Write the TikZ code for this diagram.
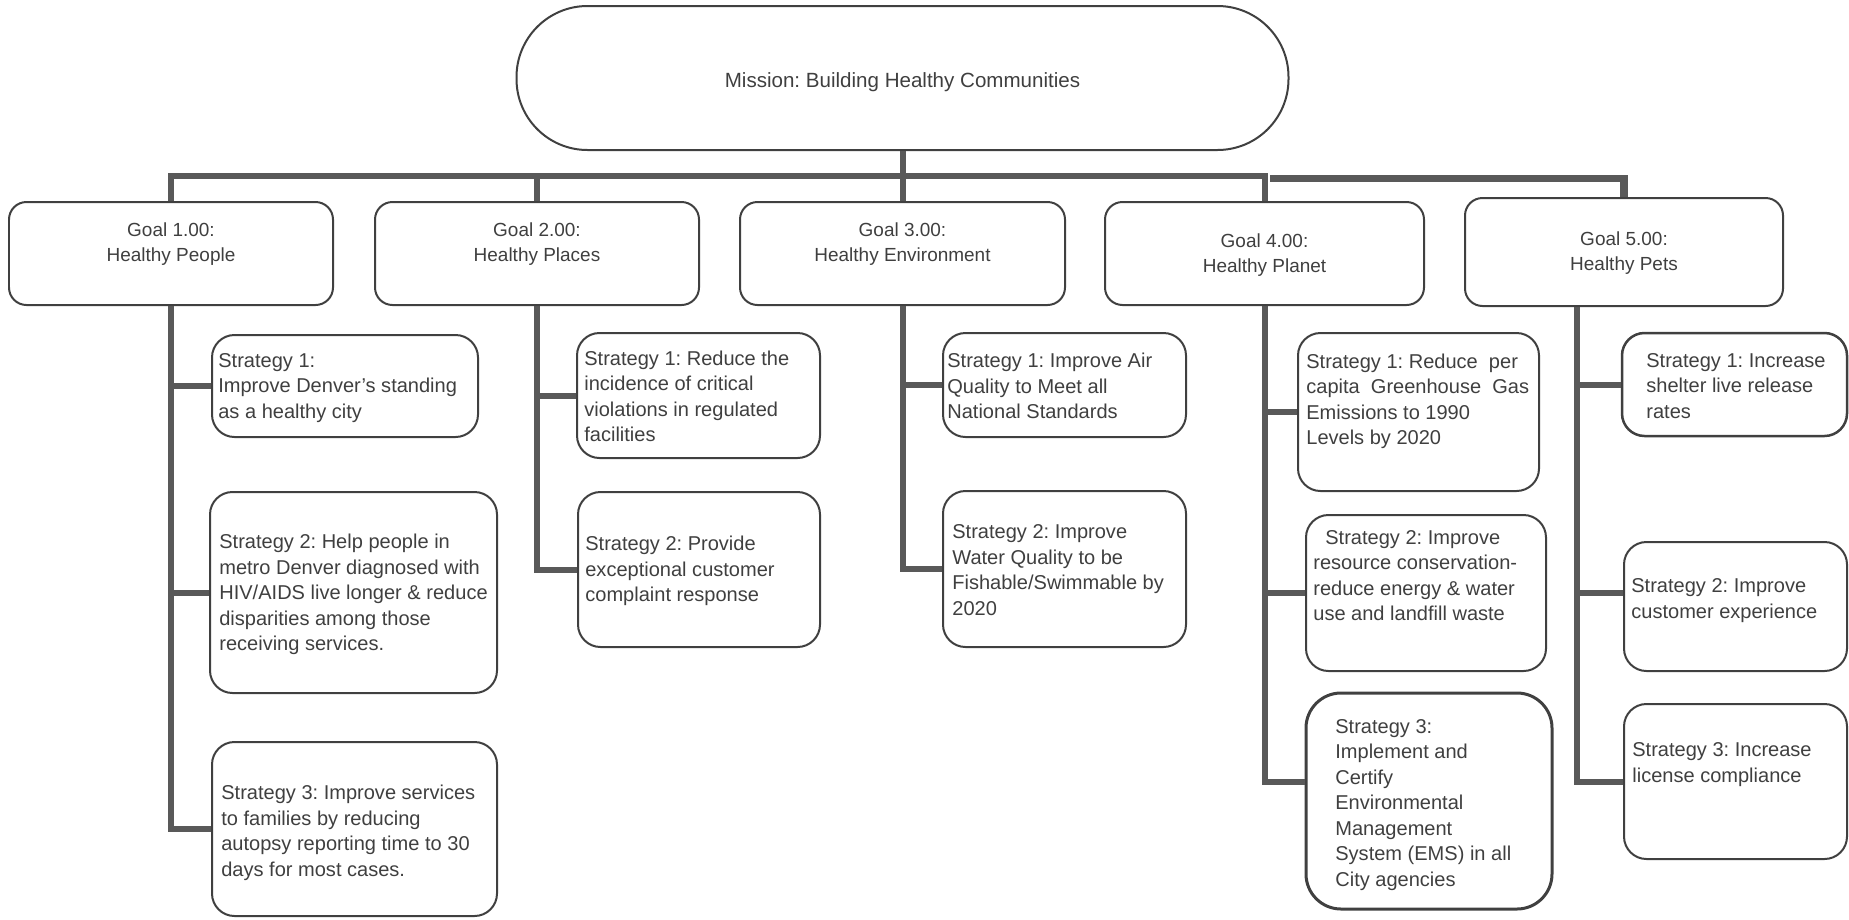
\documentclass[tikz,border=0pt]{standalone}
\usepackage{fontspec}
\setmainfont{Liberation Sans}
\frenchspacing
\definecolor{linkgray}{HTML}{595959}
\definecolor{boxgray}{HTML}{404040}
\definecolor{textgray}{HTML}{3F3F3F}
\tikzset{
  link/.style={draw=linkgray, line width=0.12cm},
  missionbox/.style={draw=boxgray, line width=0.04cm, rounded corners=1.42cm, minimum width=15.44cm, minimum height=2.88cm},
  missiontext/.style={inner sep=0pt, text=textgray, font=\fontsize{11.7pt}{14pt}\selectfont},
  goalbox/.style={draw=boxgray, line width=0.04cm, rounded corners=0.35cm, minimum height=2.06cm},
  goaltext/.style={align=center, inner sep=0pt, text=textgray, font=\fontsize{10.8pt}{14.2pt}\selectfont},
  stratbox/.style={draw=boxgray, line width=0.04cm, rounded corners=0.45cm},
  strattext/.style={anchor=west, align=left, inner sep=0pt, text=textgray, font=\fontsize{11.4pt}{14.5pt}\selectfont}
}
\begin{document}
\begin{tikzpicture}
\useasboundingbox (0,0) rectangle (36.98,-18.38);

% mission and goals
\node[missionbox] (mission) at (18.05,-1.56) {};
\node[missiontext] (missiontext) at (18.05,-1.64) {Mission: Building Healthy Communities};

\node[goalbox, minimum width=6.48cm] (g1) at (3.42,-5.07) {};
\node[goaltext] (g1text) at (3.42,-4.88) {Goal 1.00:\\Healthy People};
\node[goalbox, minimum width=6.48cm] (g2) at (10.74,-5.07) {};
\node[goaltext] (g2text) at (10.74,-4.88) {Goal 2.00:\\Healthy Places};
\node[goalbox, minimum width=6.50cm] (g3) at (18.05,-5.07) {};
\node[goaltext] (g3text) at (18.05,-4.88) {Goal 3.00:\\Healthy Environment};
\node[goalbox, minimum width=6.38cm] (g4) at (25.29,-5.07) {};
\node[goaltext] (g4text) at (25.29,-5.10) {Goal 4.00:\\Healthy Planet};
\node[goalbox, minimum width=6.36cm, minimum height=2.16cm] (g5) at (32.48,-5.04) {};
\node[goaltext] (g5text) at (32.48,-5.07) {Goal 5.00:\\Healthy Pets};

\coordinate (bus) at (18.05,-3.51);
\coordinate (busright) at (25.40,-3.57);
\draw[link] (mission.south) -- (g3.north);
\draw[link] (g1.north) |- (bus) -| (g4.north);
\draw[link] (g2.north) -- (g2.north |- bus);
\draw[link, line width=0.15cm] (busright) -| (g5.north);

% goal 1
\node[stratbox, minimum width=5.32cm, minimum height=2.04cm] (s11) at (6.90,-7.72) {};
\node[strattext] (s11text) at (4.36,-7.76) {Strategy 1:\\Improve Denver’s standing\\as a healthy city};
\node[stratbox, minimum width=5.74cm, minimum height=4.02cm] (s12) at (7.07,-11.85) {};
\node[strattext] (s12text) at (4.38,-11.89) {Strategy 2: Help people in\\metro Denver diagnosed with\\HIV/AIDS live longer \& reduce\\disparities among those\\receiving services.};
\node[stratbox, minimum width=5.70cm, minimum height=3.48cm] (s13) at (7.09,-16.58) {};
\node[strattext] (s13text) at (4.42,-16.66) {Strategy 3: Improve services\\to families by reducing\\autopsy reporting time to 30\\days for most cases.};
\draw[link] (g1.south) |- (s13.west);
\draw[link] (g1.south |- s11.west) -- (s11.west);
\draw[link] (g1.south |- s12.west) -- (s12.west);

% goal 2
\node[stratbox, minimum width=4.86cm, minimum height=2.50cm] (s21) at (13.97,-7.91) {};
\node[strattext] (s21text) at (11.68,-7.93) {Strategy 1: Reduce the\\incidence of critical\\violations in regulated\\facilities};
\node[stratbox, minimum width=4.84cm, minimum height=3.10cm] (s22) at (13.98,-11.39) {};
\node[strattext] (s22text) at (11.70,-11.42) {Strategy 2: Provide\\exceptional customer\\complaint response};
\draw[link] (g2.south) |- (s22.west);
\draw[link] (g2.south |- s21.west) -- (s21.west);

% goal 3
\node[stratbox, minimum width=4.86cm, minimum height=2.08cm] (s31) at (21.29,-7.70) {};
\node[strattext] (s31text) at (18.94,-7.72) {Strategy 1: Improve Air\\Quality to Meet all\\National Standards};
\node[stratbox, minimum width=4.86cm, minimum height=3.12cm] (s32) at (21.29,-11.38) {};
\node[strattext] (s32text) at (19.04,-11.40) {Strategy 2: Improve\\Water Quality to be\\Fishable/Swimmable by\\2020};
\draw[link] (g3.south) |- (s32.west);
\draw[link] (g3.south |- s31.west) -- (s31.west);

% goal 4
\node[stratbox, minimum width=4.82cm, minimum height=3.16cm] (s41) at (28.37,-8.24) {};
\node[strattext] (s41text) at (26.12,-8.03) {Strategy 1: Reduce\ \ per\\capita\ \ Greenhouse\ \ Gas\\Emissions to 1990\\Levels by 2020};
\node[stratbox, minimum width=4.80cm, minimum height=3.12cm] (s42) at (28.52,-11.86) {};
\node[strattext] (s42text) at (26.26,-11.51) {\hspace{0.24cm}Strategy 2: Improve\\resource conservation-\\reduce energy \& water\\use and landfill waste};
\node[stratbox, minimum width=4.92cm, minimum height=4.32cm, line width=0.06cm, rounded corners=0.7cm] (s43) at (28.58,-16.02) {};
\node[strattext] (s43text) at (26.70,-16.10) {Strategy 3:\\Implement and\\Certify\\Environmental\\Management\\System (EMS) in all\\City agencies};
\coordinate (s43in) at ([yshift=0.38cm]s43.west);
\draw[link] (g4.south) |- (s43in);
\draw[link] (g4.south |- s41.west) -- (s41.west);
\draw[link] (g4.south |- s42.west) -- (s42.west);

% goal 5
\node[stratbox, minimum width=4.50cm, minimum height=2.06cm, line width=0.05cm] (s51) at (34.69,-7.69) {};
\node[strattext] (s51text) at (32.92,-7.72) {Strategy 1: Increase\\shelter live release\\rates};
\node[stratbox, minimum width=4.46cm, minimum height=2.58cm] (s52) at (34.71,-12.13) {};
\node[strattext] (s52text) at (32.62,-12.01) {Strategy 2: Improve\\customer experience};
\node[stratbox, minimum width=4.46cm, minimum height=3.10cm] (s53) at (34.71,-15.63) {};
\node[strattext] (s53text) at (32.64,-15.29) {Strategy 3: Increase\\license compliance};
\coordinate (g5drop) at ([xshift=-0.94cm]g5.south);
\coordinate (s52in) at ([yshift=0.27cm]s52.west);
\draw[link] (g5drop) |- (s53.west);
\draw[link] (g5drop |- s51.west) -- (s51.west);
\draw[link] (g5drop |- s52in) -- (s52in);

\end{tikzpicture}
\end{document}
